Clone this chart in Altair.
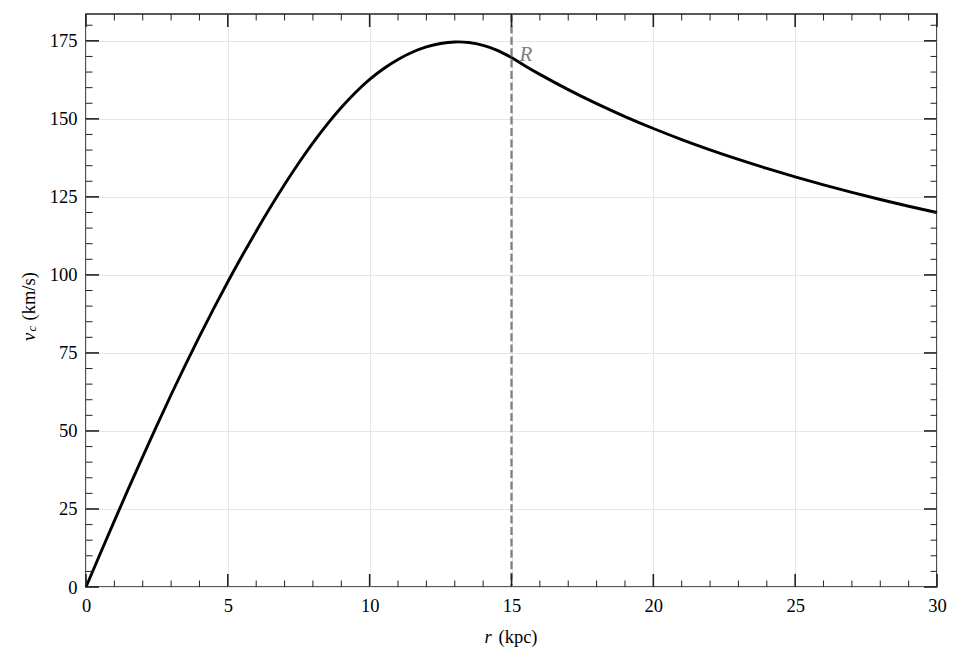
import altair as alt
import pandas as pd

# ---- data ----
r_kpc = [0, 0.5, 1, 1.5, 2, 2.5, 3, 3.5, 4, 4.5, 5, 5.5, 6, 6.5, 7, 7.5, 8, 8.5,
         9, 9.5, 10, 10.5, 11, 11.5, 12, 12.5, 13, 13.5, 14, 14.5, 15,
         15.5, 16, 17, 18, 19, 20, 21, 22, 23, 24, 25, 26, 27, 28, 29, 30]
v_c = [0, 10.65, 21.2, 31.6, 41.8, 51.8, 61.6, 71.1, 80.3, 89.2, 97.8, 106.05, 114.0,
       121.65, 128.95, 135.85, 142.3, 148.25, 153.65, 158.45, 162.65, 166.15, 169.05,
       171.35, 173.05, 174.15, 174.65, 174.45, 173.55, 171.95, 169.65,
       166.89, 164.26, 159.36, 154.87, 150.74, 146.92, 143.38, 140.08, 137.0, 134.12,
       131.41, 128.86, 126.45, 124.17, 122.01, 119.96]

x_major = [0, 5, 10, 15, 20, 25, 30]
x_minor = [v for v in range(0, 31) if v % 5 != 0]
y_major = [0, 25, 50, 75, 100, 125, 150, 175]
y_minor = [v for v in range(0, 185, 5) if v % 25 != 0]
R_value = 15
R_label = "R"

x_domain = [0, 30]
y_domain = [0, 183.6]

# ---- styling ----
W, H = 851, 573
FONT = "'Liberation Serif', 'Times New Roman', Times, serif"
FS = 18.5
INK = "#222222"
MAJ, MIN = 13, 6.5

xs = alt.Scale(domain=x_domain, nice=False, zero=False)
ys = alt.Scale(domain=y_domain, nice=False, zero=False)

xaxis = alt.Axis(values=x_major, grid=True, ticks=False, tickSize=0, domain=False,
                 labelFlush=False, labelOverlap=False, labelPadding=9, title=None,
                 format="d")
yaxis = alt.Axis(values=y_major, grid=True, ticks=False, tickSize=0, domain=False,
                 labelFlush=False, labelOverlap=False, labelPadding=9, title=None,
                 format="d")

# inner (r <= R) and outer (r >= R) branches, sharing the point at R
rows = []
for r, v in zip(r_kpc, v_c):
    if r <= R_value:
        rows.append({"r": r, "v": v, "part": "inner"})
    if r >= R_value:
        rows.append({"r": r, "v": v, "part": "outer"})
df = pd.DataFrame(rows)

curve = alt.Chart(df).mark_line(color="black", strokeWidth=2.9, interpolate="natural").encode(
    x=alt.X("r:Q", scale=xs, axis=xaxis),
    y=alt.Y("v:Q", scale=ys, axis=yaxis),
    detail="part:N",
)

rline = alt.Chart(pd.DataFrame({"r": [R_value]})).mark_rule(
    color="#808080", strokeWidth=2.3, strokeDash=[8, 3.4]
).encode(x=alt.X("r:Q", scale=xs, axis=xaxis))

rtext = alt.Chart(pd.DataFrame({"r": [R_value], "t": [R_label]})).mark_text(
    font=FONT, fontStyle="italic", fontSize=21, color="#808080",
    align="left", baseline="alphabetic", dx=8
).encode(x=alt.X("r:Q", scale=xs, axis=xaxis), y=alt.value(47), text="t:N")


def xticks(vals, length, width):
    d = pd.DataFrame({"r": vals})
    bot = alt.Chart(d).mark_rule(color=INK, strokeWidth=width).encode(
        x=alt.X("r:Q", scale=xs, axis=xaxis), y=alt.value(H), y2=alt.value(H - length))
    top = alt.Chart(d).mark_rule(color=INK, strokeWidth=width).encode(
        x=alt.X("r:Q", scale=xs, axis=xaxis), y=alt.value(0), y2=alt.value(length))
    return [bot, top]


def yticks(vals, length, width):
    d = pd.DataFrame({"v": vals})
    left = alt.Chart(d).mark_rule(color=INK, strokeWidth=width).encode(
        y=alt.Y("v:Q", scale=ys, axis=yaxis), x=alt.value(0), x2=alt.value(length))
    right = alt.Chart(d).mark_rule(color=INK, strokeWidth=width).encode(
        y=alt.Y("v:Q", scale=ys, axis=yaxis), x=alt.value(W), x2=alt.value(W - length))
    return [left, right]


ticks = (xticks(x_major, MAJ, 1.6) + xticks(x_minor, MIN, 1.0)
         + yticks(y_major, MAJ, 1.6) + yticks(y_minor, MIN, 1.0))


def label(text, x, y, size=FS, italic=False, angle=0):
    kw = dict(font=FONT, fontSize=size, color="black", align="left",
              baseline="alphabetic", text=text)
    if italic:
        kw["fontStyle"] = "italic"
    if angle:
        kw["angle"] = angle
    return alt.Chart(pd.DataFrame({"a": [0]})).mark_text(**kw).encode(
        x=alt.value(x), y=alt.value(y))


titles = [
    label("r", 398.5, 629.3, italic=True),
    label("(kpc)", 412.5, 629.3),
    label("v", -51, 327, italic=True, angle=270),
    label("c", -49.8, 317.5, size=13, italic=True, angle=270),
    label("(km/s)", -51, 306.5, angle=270),
]

chart = alt.layer(curve, rline, rtext, *ticks, *titles).properties(
    width=W, height=H,
    autosize=alt.AutoSizeParams(type="none"),
    padding={"left": 78, "top": 6, "right": 17, "bottom": 68},
).configure_view(
    stroke=INK, strokeWidth=1.6
).configure_axis(
    labelFont=FONT, labelFontSize=FS, labelColor="black",
    gridColor="#e6e6e6", gridWidth=1, gridOpacity=1,
)

chart.save("out.html", embed_options={"renderer": "svg", "actions": False})
